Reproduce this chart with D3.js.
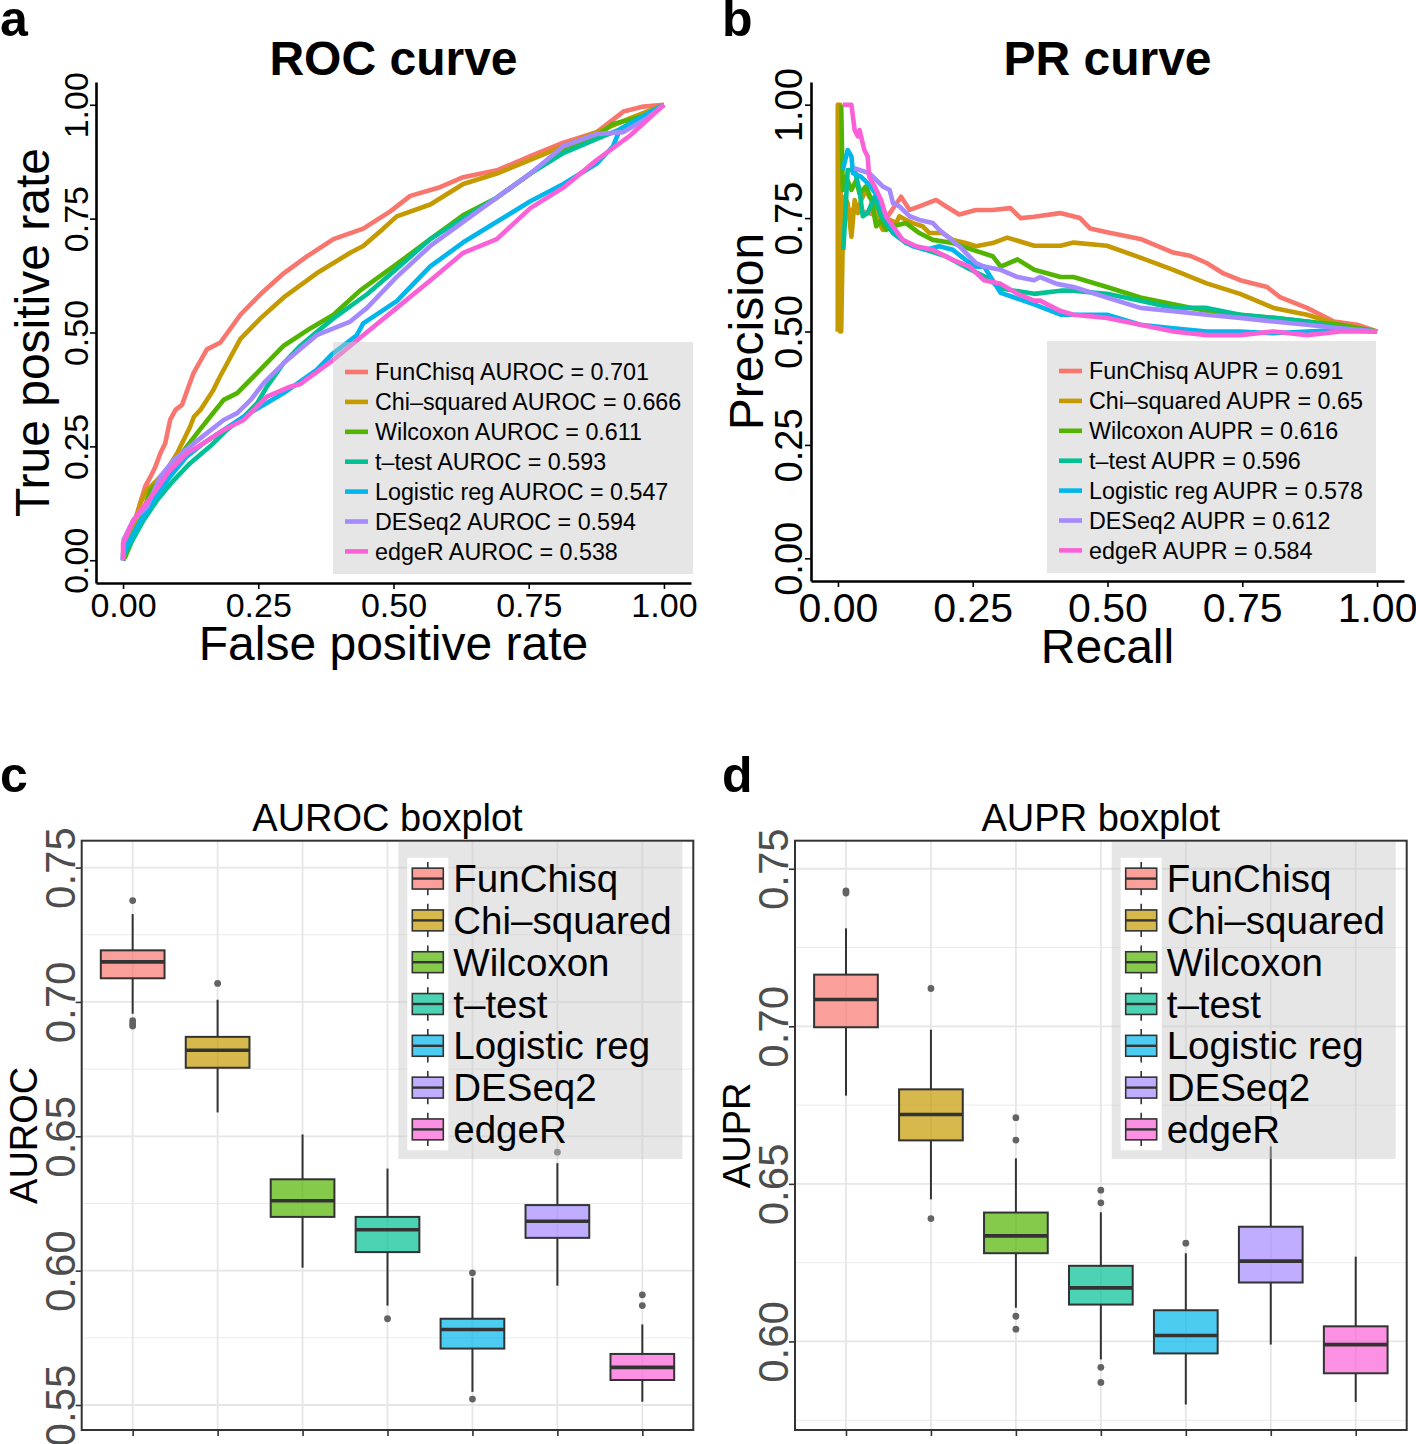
<!DOCTYPE html>
<html><head><meta charset="utf-8">
<script src="https://cdn.jsdelivr.net/npm/d3@7"></script>
<style>body{margin:0;background:#fff} svg{display:block;font-family:"Liberation Sans",Arial,Helvetica,sans-serif}</style>
</head><body><svg id="c" width="1416" height="1444"></svg>
<script>
// ---------------- data ----------------
const methods = ["FunChisq","Chi–squared","Wilcoxon","t–test","Logistic reg","DESeq2","edgeR"];
const colors = ["#F8766D","#C49A00","#53B400","#00C094","#00B6EB","#A58AFF","#FB61D7"];
const aurocValues = ["0.701","0.666","0.611","0.593","0.547","0.594","0.538"];
const auprValues = ["0.691","0.65","0.616","0.596","0.578","0.612","0.584"];
const axisTicks = [0,0.25,0.5,0.75,1];
const boxTicks = [0.55,0.6,0.65,0.7,0.75];
const boxMinor = [0.575,0.625,0.675,0.725];

// ROC curves: [FPR, TPR]
const rocFunChisq = [[0,0],[0.009,0.045],[0.026,0.103],[0.041,0.162],[0.051,0.184],[0.06,0.206],[0.069,0.235],[0.078,0.257],[0.087,0.308],[0.097,0.33],[0.109,0.341],[0.121,0.381],[0.13,0.41],[0.155,0.463],[0.18,0.478],[0.217,0.539],[0.254,0.584],[0.297,0.63],[0.34,0.667],[0.389,0.705],[0.444,0.728],[0.494,0.766],[0.531,0.8],[0.586,0.819],[0.629,0.841],[0.691,0.856],[0.753,0.887],[0.814,0.917],[0.876,0.94],[0.925,0.985],[0.962,0.996],[1,1]];
const rocChisq = [[0,0],[0.013,0.045],[0.032,0.125],[0.044,0.154],[0.063,0.176],[0.081,0.198],[0.1,0.235],[0.112,0.264],[0.124,0.293],[0.131,0.315],[0.143,0.33],[0.155,0.352],[0.167,0.374],[0.18,0.405],[0.217,0.486],[0.254,0.531],[0.297,0.577],[0.358,0.63],[0.42,0.675],[0.444,0.69],[0.481,0.728],[0.506,0.755],[0.568,0.781],[0.629,0.826],[0.691,0.849],[0.753,0.879],[0.814,0.909],[0.876,0.94],[0.937,0.97],[1,1]];
const rocWilcoxon = [[0,0],[0.004,0.007],[0.032,0.088],[0.051,0.154],[0.075,0.184],[0.1,0.22],[0.118,0.25],[0.137,0.279],[0.161,0.315],[0.186,0.352],[0.211,0.367],[0.247,0.41],[0.297,0.471],[0.346,0.509],[0.389,0.539],[0.438,0.592],[0.5,0.645],[0.568,0.705],[0.629,0.758],[0.691,0.796],[0.753,0.849],[0.814,0.902],[0.876,0.932],[0.906,0.958],[0.968,0.977],[1,1]];
const rocTtest = [[0,0],[0,0.007],[0.038,0.088],[0.063,0.132],[0.094,0.176],[0.124,0.213],[0.161,0.25],[0.192,0.286],[0.223,0.315],[0.248,0.345],[0.266,0.381],[0.297,0.433],[0.328,0.471],[0.358,0.501],[0.389,0.531],[0.451,0.584],[0.506,0.64],[0.568,0.705],[0.629,0.751],[0.691,0.796],[0.753,0.849],[0.814,0.894],[0.876,0.925],[0.937,0.955],[1,1]];
const rocLogistic = [[0,0],[0,0.015],[0.026,0.074],[0.057,0.132],[0.087,0.184],[0.118,0.228],[0.149,0.257],[0.186,0.286],[0.223,0.315],[0.254,0.337],[0.297,0.367],[0.358,0.418],[0.386,0.452],[0.432,0.494],[0.444,0.52],[0.506,0.569],[0.568,0.645],[0.629,0.698],[0.691,0.743],[0.753,0.788],[0.814,0.826],[0.876,0.871],[0.906,0.909],[0.919,0.947],[0.968,0.98],[1,1]];
const rocDESeq2 = [[0,0],[0.001,0.045],[0.019,0.088],[0.044,0.117],[0.069,0.184],[0.094,0.22],[0.124,0.25],[0.155,0.279],[0.186,0.308],[0.211,0.323],[0.236,0.352],[0.26,0.389],[0.297,0.433],[0.358,0.494],[0.42,0.524],[0.451,0.554],[0.506,0.622],[0.568,0.69],[0.629,0.743],[0.691,0.796],[0.753,0.849],[0.814,0.909],[0.876,0.936],[0.925,0.94],[0.968,0.97],[1,1]];
const rocEdgeR = [[0,0],[0,0.037],[0.019,0.088],[0.057,0.147],[0.087,0.198],[0.118,0.235],[0.149,0.257],[0.186,0.286],[0.223,0.308],[0.266,0.359],[0.309,0.381],[0.328,0.387],[0.389,0.44],[0.444,0.494],[0.506,0.554],[0.568,0.614],[0.629,0.675],[0.691,0.705],[0.753,0.773],[0.814,0.818],[0.876,0.879],[0.937,0.932],[1,1]];

// PR curves: [Recall, Precision]
const prFunChisq = [[0,0.5],[0,1],[0.006,0.76],[0.03,0.77],[0.06,0.76],[0.09,0.75],[0.117,0.797],[0.133,0.768],[0.151,0.776],[0.182,0.79],[0.2,0.776],[0.225,0.758],[0.256,0.768],[0.287,0.768],[0.32,0.772],[0.339,0.75],[0.364,0.753],[0.412,0.761],[0.449,0.75],[0.468,0.727],[0.499,0.719],[0.561,0.704],[0.622,0.674],[0.653,0.667],[0.684,0.651],[0.715,0.628],[0.746,0.613],[0.796,0.598],[0.821,0.575],[0.87,0.552],[0.92,0.522],[0.963,0.515],[1,0.5]];
const prChisq = [[0,0.5],[0,1],[0.004,1],[0.004,0.5],[0.006,0.5],[0.009,0.709],[0.012,0.797],[0.018,0.783],[0.025,0.709],[0.031,0.79],[0.037,0.761],[0.043,0.79],[0.052,0.812],[0.058,0.797],[0.068,0.783],[0.077,0.739],[0.083,0.724],[0.096,0.746],[0.108,0.739],[0.114,0.754],[0.126,0.746],[0.139,0.739],[0.157,0.732],[0.17,0.717],[0.194,0.717],[0.213,0.702],[0.237,0.695],[0.256,0.688],[0.287,0.695],[0.314,0.707],[0.364,0.689],[0.413,0.689],[0.437,0.696],[0.499,0.689],[0.561,0.663],[0.622,0.636],[0.684,0.606],[0.746,0.583],[0.808,0.552],[0.87,0.537],[0.932,0.515],[1,0.5]];
const prWilcoxon = [[0.006,1],[0.009,0.812],[0.015,0.841],[0.025,0.812],[0.034,0.834],[0.04,0.804],[0.052,0.82],[0.062,0.79],[0.071,0.732],[0.08,0.746],[0.089,0.724],[0.102,0.732],[0.126,0.739],[0.151,0.717],[0.176,0.702],[0.213,0.695],[0.25,0.68],[0.287,0.666],[0.302,0.643],[0.333,0.659],[0.364,0.636],[0.413,0.62],[0.437,0.62],[0.499,0.598],[0.561,0.575],[0.622,0.56],[0.684,0.545],[0.746,0.537],[0.808,0.53],[0.87,0.522],[0.932,0.515],[1,0.5]];
const prTtest = [[0.01,0.68],[0.018,0.856],[0.031,0.856],[0.04,0.812],[0.046,0.754],[0.055,0.761],[0.068,0.797],[0.08,0.754],[0.102,0.717],[0.126,0.695],[0.163,0.68],[0.2,0.666],[0.24,0.64],[0.274,0.62],[0.302,0.595],[0.364,0.583],[0.413,0.59],[0.437,0.59],[0.499,0.583],[0.561,0.568],[0.622,0.552],[0.684,0.552],[0.746,0.537],[0.808,0.53],[0.87,0.522],[0.932,0.507],[1,0.5]];
const prLogistic = [[0.009,0.856],[0.018,0.9],[0.025,0.886],[0.028,0.849],[0.043,0.841],[0.055,0.827],[0.065,0.812],[0.074,0.797],[0.089,0.754],[0.102,0.724],[0.12,0.702],[0.139,0.688],[0.163,0.68],[0.188,0.688],[0.213,0.68],[0.237,0.658],[0.256,0.643],[0.271,0.643],[0.302,0.585],[0.364,0.56],[0.413,0.537],[0.437,0.537],[0.499,0.537],[0.561,0.515],[0.622,0.507],[0.684,0.5],[0.746,0.5],[0.808,0.496],[0.87,0.5],[0.932,0.503],[1,0.5]];
const prDESeq2 = [[0.03,0.86],[0.04,0.856],[0.058,0.849],[0.071,0.834],[0.083,0.82],[0.096,0.812],[0.102,0.783],[0.114,0.776],[0.133,0.754],[0.151,0.746],[0.176,0.739],[0.188,0.724],[0.225,0.688],[0.256,0.651],[0.271,0.643],[0.302,0.636],[0.333,0.62],[0.364,0.613],[0.375,0.62],[0.406,0.605],[0.437,0.598],[0.499,0.575],[0.561,0.552],[0.622,0.545],[0.684,0.537],[0.746,0.53],[0.808,0.522],[0.87,0.515],[0.932,0.507],[1,0.5]];
const prEdgeR = [[0.009,1],[0.025,1],[0.031,0.944],[0.037,0.93],[0.04,0.944],[0.049,0.9],[0.055,0.886],[0.058,0.841],[0.068,0.82],[0.08,0.79],[0.089,0.754],[0.102,0.732],[0.12,0.702],[0.145,0.688],[0.176,0.68],[0.213,0.658],[0.244,0.643],[0.271,0.613],[0.302,0.605],[0.333,0.583],[0.364,0.568],[0.375,0.568],[0.413,0.545],[0.437,0.537],[0.499,0.53],[0.561,0.515],[0.622,0.5],[0.684,0.492],[0.746,0.492],[0.808,0.5],[0.87,0.492],[0.932,0.5],[1,0.5]];

// Boxplot statistics (per method, same order)
const aurocLow  = [0.6956,0.6589,0.6011,0.587,0.5549,0.5944,0.5512];
const aurocQ1   = [0.7088,0.6755,0.62,0.6069,0.571,0.6122,0.5593];
const aurocMed  = [0.7149,0.682,0.626,0.6152,0.5781,0.6184,0.564];
const aurocQ3   = [0.7192,0.687,0.634,0.62,0.5821,0.6244,0.569];
const aurocHigh = [0.7327,0.7008,0.6507,0.638,0.5974,0.64,0.58];
const aurocOut  = [[0.7377,0.693,0.6919,0.691],[0.7069],[],[0.5821],[0.5992,0.5522],[0.6441],[0.591,0.587]];

const auprLow  = [0.678,0.6451,0.6107,0.5943,0.58,0.599,0.5808];
const auprQ1   = [0.6997,0.6638,0.628,0.6117,0.5962,0.6187,0.5899];
const auprMed  = [0.7085,0.672,0.6335,0.617,0.6019,0.6255,0.599];
const auprQ3   = [0.7164,0.68,0.6409,0.624,0.6099,0.6364,0.6048];
const auprHigh = [0.7311,0.6989,0.6581,0.641,0.628,0.6619,0.6269];
const auprOut  = [[0.743,0.7423],[0.712,0.639],[0.671,0.6639,0.608,0.6039],[0.648,0.644,0.5918,0.587],[0.6312],[],[]];

// ---------------- drawing ----------------
const svg = d3.select("#c");
const fmt = d3.format(".2f");

function panelLabel(txt, x, y){
  svg.append("text").attr("x",x).attr("y",y).attr("font-size",50).attr("font-weight","bold").text(txt);
}

function curvePanel(opt){
  const x = d3.scaleLinear().domain([-0.05,1.05]).range([opt.left,opt.right]);
  const y = d3.scaleLinear().domain([-0.05,1.05]).range([opt.bottom,opt.top]);
  const g = svg.append("g");
  const line = d3.line().x(d=>x(d[0])).y(d=>y(d[1]));
  opt.curves.forEach((c,i)=>{
    g.append("path").attr("d",line(c)).attr("fill","none").attr("stroke",colors[i])
      .attr("stroke-width",4.6).attr("stroke-linejoin","round").attr("stroke-linecap","butt");
  });
  // legend
  const lg = svg.append("g");
  lg.append("rect").attr("x",opt.legX).attr("y",opt.legY).attr("width",opt.legW).attr("height",opt.legH)
    .attr("fill","#c8c8c8").attr("fill-opacity",0.45);
  methods.forEach((m,i)=>{
    const cy = opt.legRow0 + i*29.9;
    lg.append("line").attr("x1",opt.keyX).attr("x2",opt.keyX+23).attr("y1",cy).attr("y2",cy)
      .attr("stroke",colors[i]).attr("stroke-width",4.6);
    lg.append("text").attr("x",opt.keyX+30).attr("y",cy+8.2).attr("font-size",23.3)
      .text(m+" "+opt.metric+" = "+opt.values[i]);
  });
  // axes
  const ax = svg.append("g").attr("transform",`translate(${opt.left},0)`)
    .call(d3.axisLeft(y).tickValues(axisTicks).tickFormat(fmt).tickSize(6).tickSizeOuter(0));
  ax.select(".domain").attr("stroke","#000").attr("stroke-width",2.6);
  ax.selectAll(".tick line").attr("stroke","#000").attr("stroke-width",1.6);
  ax.selectAll(".tick text").attr("x",null).attr("dy",null).attr("fill","#000")
    .attr("font-size",opt.yTickSize).attr("text-anchor","middle")
    .attr("transform",`translate(${-opt.yTickGap},0) rotate(-90)`);
  const bx = svg.append("g").attr("transform",`translate(0,${opt.bottom})`)
    .call(d3.axisBottom(x).tickValues(axisTicks).tickFormat(fmt).tickSize(6).tickSizeOuter(0));
  bx.select(".domain").attr("stroke","#000").attr("stroke-width",2.6);
  bx.selectAll(".tick line").attr("stroke","#000").attr("stroke-width",1.6);
  bx.selectAll(".tick text").attr("dy",null).attr("y",opt.xTickBase).attr("fill","#000")
    .attr("font-size",opt.xTickSize);
  svg.selectAll("g").attr("font-family",null);
  const cx = (opt.left+opt.right)/2, cyy = (opt.top+opt.bottom)/2;
  svg.append("text").attr("x",cx).attr("y",opt.bottom+opt.xTitleBase).attr("text-anchor","middle")
    .attr("font-size",48).text(opt.xTitle);
  svg.append("text").attr("transform",`translate(${opt.yTitleX},${cyy}) rotate(-90)`).attr("text-anchor","middle")
    .attr("font-size",48).text(opt.yTitle);
  svg.append("text").attr("x",cx).attr("y",75).attr("text-anchor","middle")
    .attr("font-size",48).attr("font-weight","bold").text(opt.title);
}

curvePanel({left:96,right:691,top:82,bottom:583,
  curves:[rocFunChisq,rocChisq,rocWilcoxon,rocTtest,rocLogistic,rocDESeq2,rocEdgeR],
  legX:333,legY:342,legW:360,legH:232,legRow0:372,keyX:345,metric:"AUROC",values:aurocValues,
  yTickSize:34,yTickGap:8.5,xTickSize:34,xTickBase:34,xTitle:"False positive rate",xTitleBase:77,
  yTitle:"True positive rate",yTitleX:49,title:"ROC curve"});
curvePanel({left:811,right:1404,top:82,bottom:581,
  curves:[prFunChisq,prChisq,prWilcoxon,prTtest,prLogistic,prDESeq2,prEdgeR],
  legX:1047,legY:341,legW:329,legH:232,legRow0:371,keyX:1059,metric:"AUPR",values:auprValues,
  yTickSize:38,yTickGap:9,xTickSize:41,xTickBase:41,xTitle:"Recall",xTitleBase:82,
  yTitle:"Precision",yTitleX:763,title:"PR curve"});

function boxPanel(opt){
  const x = d3.scalePoint().domain(methods).range([opt.left,opt.right]).padding(0.6);
  const y = d3.scaleLinear().domain(opt.domain).range([opt.bottom,opt.top]);
  const step = x.step(), bw = step*0.75;
  const inDom = v => v >= opt.domain[0] && v <= opt.domain[1];
  const g = svg.append("g");
  g.append("rect").attr("x",opt.left).attr("y",opt.top).attr("width",opt.right-opt.left)
    .attr("height",opt.bottom-opt.top).attr("fill","#fff");
  // grid
  boxMinor.filter(inDom).forEach(v=>{
    g.append("line").attr("x1",opt.left).attr("x2",opt.right).attr("y1",y(v)).attr("y2",y(v))
      .attr("stroke","#EBEBEB").attr("stroke-width",1);});
  boxTicks.filter(inDom).forEach(v=>{
    g.append("line").attr("x1",opt.left).attr("x2",opt.right).attr("y1",y(v)).attr("y2",y(v))
      .attr("stroke","#E6E6E6").attr("stroke-width",1.8);});
  methods.forEach(m=>{
    g.append("line").attr("x1",x(m)).attr("x2",x(m)).attr("y1",opt.top).attr("y2",opt.bottom)
      .attr("stroke","#E6E6E6").attr("stroke-width",1.8);});
  // boxes
  methods.forEach((m,i)=>{
    const cx = x(m);
    g.append("line").attr("x1",cx).attr("x2",cx).attr("y1",y(opt.high[i])).attr("y2",y(opt.q3[i]))
      .attr("stroke","#333").attr("stroke-width",2);
    g.append("line").attr("x1",cx).attr("x2",cx).attr("y1",y(opt.q1[i])).attr("y2",y(opt.low[i]))
      .attr("stroke","#333").attr("stroke-width",2);
    g.append("rect").attr("x",cx-bw/2).attr("width",bw).attr("y",y(opt.q3[i]))
      .attr("height",y(opt.q1[i])-y(opt.q3[i])).attr("fill",colors[i]).attr("fill-opacity",0.7)
      .attr("stroke","#333").attr("stroke-width",2);
    g.append("line").attr("x1",cx-bw/2).attr("x2",cx+bw/2).attr("y1",y(opt.med[i])).attr("y2",y(opt.med[i]))
      .attr("stroke","#333").attr("stroke-width",3.6);
    opt.out[i].forEach(v=>{
      g.append("circle").attr("cx",cx).attr("cy",y(v)).attr("r",3.4).attr("fill","#636363");
    });
  });
  // legend
  const lg = svg.append("g");
  lg.append("rect").attr("x",opt.legX).attr("y",842).attr("width",284).attr("height",317)
    .attr("fill","#c8c8c8").attr("fill-opacity",0.45);
  lg.append("rect").attr("x",opt.legX+9).attr("y",857.7).attr("width",41).attr("height",292.6).attr("fill","#fff");
  const kx = opt.legX+29.5;
  methods.forEach((m,i)=>{
    const t = 857.7 + i*41.8;
    lg.append("line").attr("x1",kx).attr("x2",kx).attr("y1",t+4.2).attr("y2",t+37.6)
      .attr("stroke","#333").attr("stroke-width",1.6);
    lg.append("rect").attr("x",kx-15.5).attr("width",31).attr("y",t+10.45).attr("height",20.9)
      .attr("fill","#fff");
    lg.append("rect").attr("x",kx-15.5).attr("width",31).attr("y",t+10.45).attr("height",20.9)
      .attr("fill",colors[i]).attr("fill-opacity",0.7).attr("stroke","#333").attr("stroke-width",1.6);
    lg.append("line").attr("x1",kx-15.5).attr("x2",kx+15.5).attr("y1",t+20.9).attr("y2",t+20.9)
      .attr("stroke","#333").attr("stroke-width",2.4);
    lg.append("text").attr("x",opt.legX+55).attr("y",t+20.9+13.5).attr("font-size",38.5).text(m);
  });
  // border
  svg.append("rect").attr("x",opt.left).attr("y",opt.top).attr("width",opt.right-opt.left)
    .attr("height",opt.bottom-opt.top).attr("fill","none").attr("stroke","#333").attr("stroke-width",2);
  // axes
  const ax = svg.append("g").attr("transform",`translate(${opt.left},0)`)
    .call(d3.axisLeft(y).tickValues(boxTicks.filter(inDom)).tickFormat(fmt).tickSize(6).tickSizeOuter(0));
  ax.select(".domain").remove();
  ax.selectAll(".tick line").attr("stroke","#333").attr("stroke-width",1.6);
  ax.selectAll(".tick text").attr("x",null).attr("dy",null).attr("fill","#4D4D4D")
    .attr("font-size",42).attr("text-anchor","middle")
    .attr("transform","translate(-7,0) rotate(-90)");
  const bx = svg.append("g").attr("transform",`translate(0,${opt.bottom})`)
    .call(d3.axisBottom(x).tickSize(6).tickSizeOuter(0).tickFormat(""));
  bx.select(".domain").remove();
  bx.selectAll(".tick line").attr("stroke","#333").attr("stroke-width",1.6);
  svg.selectAll("g").attr("font-family",null);
  const cx = (opt.left+opt.right)/2, cy = (opt.top+opt.bottom)/2;
  svg.append("text").attr("x",cx).attr("y",831).attr("text-anchor","middle").attr("font-size",38).text(opt.title);
  svg.append("text").attr("transform",`translate(${opt.yTitleX},${cy}) rotate(-90)`).attr("text-anchor","middle")
    .attr("font-size",38).text(opt.yTitle);
}

boxPanel({left:81.7,right:693.3,top:840.7,bottom:1430,domain:[0.5407,0.76],
  low:aurocLow,q1:aurocQ1,med:aurocMed,q3:aurocQ3,high:aurocHigh,out:aurocOut,
  legX:398.3,title:"AUROC boxplot",yTitle:"AUROC",yTitleX:37});
boxPanel({left:795,right:1406.7,top:840.7,bottom:1430,domain:[0.5719,0.7589],
  low:auprLow,q1:auprQ1,med:auprMed,q3:auprQ3,high:auprHigh,out:auprOut,
  legX:1111.7,title:"AUPR boxplot",yTitle:"AUPR",yTitleX:750});

panelLabel("a",0,36);
panelLabel("b",722,36);
panelLabel("c",0,792);
panelLabel("d",722,792);
</script></body></html>
